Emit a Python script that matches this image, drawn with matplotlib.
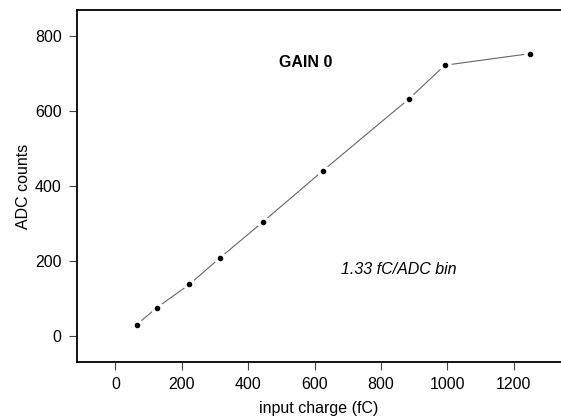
import matplotlib
matplotlib.use("Agg")
import matplotlib.pyplot as plt

charge_fc = [64.7, 125, 223, 314, 445, 625, 885, 992, 1249]
adc_counts = [31, 76, 138, 208, 305, 441, 633, 722, 753]
x_ticks = [0, 200, 400, 600, 800, 1000, 1200]
y_ticks = [0, 200, 400, 600, 800]

plt.rcParams['font.family'] = ['Liberation Sans', 'DejaVu Sans']

fig = plt.figure(figsize=(5.61, 4.2), dpi=100)
ax = fig.add_axes([0.137, 0.138, 0.863, 0.838])

ax.plot(charge_fc, adc_counts, color='#666666', lw=0.8, zorder=1)
ax.plot(charge_fc, adc_counts, 'o', ms=8, color='white', mec='white', zorder=2)
ax.plot(charge_fc, adc_counts, 'o', ms=3.0, color='black', mec='black', zorder=3)

ax.set_xlim(-116, 1342)
ax.set_ylim(-69, 869)
ax.set_xticks(x_ticks)
ax.set_yticks(y_ticks)
ax.tick_params(direction='out', length=6, width=0.8, labelsize=11.5, pad=5, color='#444444')
for s in ['left', 'bottom', 'top']:
    ax.spines[s].set_linewidth(1.3)
ax.spines['right'].set_visible(False)

ax.set_xlabel('input charge (fC)', fontsize=11.5, labelpad=6)
ax.set_ylabel('ADC counts', fontsize=11.5, labelpad=3)

ax.text(574, 728, 'GAIN 0', fontsize=11.5, fontweight='bold', ha='center', va='center')
ax.text(852, 178, '1.33 fC/ADC bin', fontsize=11.5, fontstyle='italic', ha='center', va='center')

fig.savefig('out.png', dpi=100)
